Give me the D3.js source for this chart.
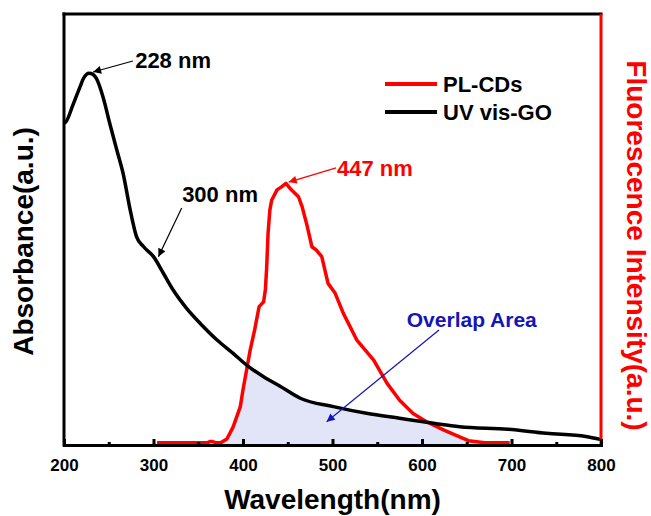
<!DOCTYPE html>
<html>
<head>
<meta charset="utf-8">
<script src="https://cdn.jsdelivr.net/npm/d3@7"></script>
<style>
  body { margin: 0; background: #fff; }
  svg text { font-family: "Liberation Sans", Arial, sans-serif; }
</style>
</head>
<body>
<div id="chart"></div>
<script>
// UV-vis absorbance of GO (left axis)
const uvWavelength = [200, 202, 210, 218, 222, 228, 232, 236, 244, 251, 259, 266, 274, 281, 289, 300, 311, 322, 337, 352, 371, 389, 404, 423, 441, 464, 501, 538, 575, 613, 642, 696, 739, 783, 800];
const uvAbsorbance = [1.494, 1.499, 1.578, 1.663, 1.703, 1.725, 1.721, 1.702, 1.609, 1.494, 1.369, 1.261, 1.090, 0.967, 0.920, 0.874, 0.797, 0.719, 0.634, 0.565, 0.487, 0.425, 0.371, 0.317, 0.274, 0.217, 0.178, 0.147, 0.124, 0.101, 0.085, 0.073, 0.054, 0.039, 0.025];

// PL emission of CDs (right axis)
const plWavelength = [304, 360, 363, 366, 370, 375, 382, 389, 397, 400, 404, 408, 413, 418, 423, 425, 426.5, 428, 430, 432, 438, 443, 448, 454, 462, 466, 471, 477, 482, 488, 495, 503, 512, 527, 546, 561, 575, 590, 605, 624, 642, 652, 670, 698];
const plIntensity = [0.005, 0.005, 0.008, 0.008, 0.005, 0.005, 0.014, 0.042, 0.089, 0.128, 0.174, 0.220, 0.267, 0.321, 0.332, 0.360, 0.414, 0.491, 0.545, 0.568, 0.592, 0.599, 0.607, 0.592, 0.576, 0.553, 0.514, 0.460, 0.452, 0.437, 0.375, 0.352, 0.306, 0.244, 0.197, 0.143, 0.104, 0.073, 0.054, 0.035, 0.019, 0.010, 0.005, 0.005];

const xTicks = [200, 300, 400, 500, 600, 700, 800];
const xMinorTicks = [250, 350, 450, 550, 650, 750];

const legendItems = [
  { label: "PL-CDs", color: "#ff0000" },
  { label: "UV vis-GO", color: "#000000" }
];

// annotations in data units: axis says which y scale they belong to
const notes = [
  { text: "228 nm", axis: "left", color: "#000", tx: 279.5, ty: 1.749, x1: 277, y1: 1.782, x2: 232.5, y2: 1.731 },
  { text: "300 nm", axis: "left", color: "#000", tx: 332, ty: 1.128, x1: 331.5, y1: 1.100, x2: 305.5, y2: 0.874 },
  { text: "447 nm", axis: "right", color: "#ff0000", tx: 505, ty: 0.624, x1: 504, y1: 0.643, x2: 451, y2: 0.610 },
  { text: "Overlap Area", axis: "left", color: "#1414b8", tx: 583, ty: 0.549, x1: 619, y1: 0.534, x2: 493.5, y2: 0.108 }
];

function interp(xs, ys, x) {
  if (x <= xs[0]) return ys[0];
  if (x >= xs[xs.length - 1]) return ys[ys.length - 1];
  const i = d3.bisectRight(xs, x);
  const t = (x - xs[i - 1]) / (xs[i] - xs[i - 1]);
  return ys[i - 1] + t * (ys[i] - ys[i - 1]);
}

function drawChart() {
  const width = 651;
  const height = 516;
  const margin = { top: 14, right: 50, bottom: 71, left: 64 };
  const innerW = width - margin.left - margin.right;
  const innerH = height - margin.top - margin.bottom;

  const svg = d3.select("#chart")
    .append("svg")
    .attr("width", width)
    .attr("height", height);

  const defs = svg.append("defs");
  ["#000", "#ff0000", "#1414b8"].forEach((c, i) => {
    defs.append("marker")
      .attr("id", "arrow" + i)
      .attr("viewBox", "0 0 10 10")
      .attr("refX", 10)
      .attr("refY", 5)
      .attr("markerUnits", "userSpaceOnUse")
      .attr("markerWidth", 10)
      .attr("markerHeight", 8)
      .attr("orient", "auto")
      .append("path")
      .attr("d", "M0,0 L10,5 L0,10 z")
      .attr("fill", c);
  });
  const markerFor = { "#000": "arrow0", "#ff0000": "arrow1", "#1414b8": "arrow2" };

  const g = svg.append("g")
    .attr("transform", `translate(${margin.left},${margin.top})`);

  const x = d3.scaleLinear().domain([200, 800]).range([0, innerW]);
  const yAbs = d3.scaleLinear().domain([0, 2]).range([innerH, 0]);
  const yPl = d3.scaleLinear().domain([0, 1]).range([innerH, 0]);

  // overlap area = under the lower of the two curves
  const grid = Array.from(new Set(uvWavelength.concat(plWavelength)))
    .filter(w => w >= 370 && w <= 698)
    .sort((a, b) => a - b);
  const overlap = grid.map(w => ({
    w,
    y: Math.max(yAbs(interp(uvWavelength, uvAbsorbance, w)), yPl(interp(plWavelength, plIntensity, w)))
  }));
  g.append("path")
    .datum(overlap)
    .attr("fill", "#e2e5f8")
    .attr("d", d3.area()
      .x(d => x(d.w))
      .y0(innerH)
      .y1(d => d.y));

  const uvData = uvWavelength.map((w, i) => ({ w, v: uvAbsorbance[i] }));
  const plData = plWavelength.map((w, i) => ({ w, v: plIntensity[i] }));

  g.append("path")
    .datum(plData)
    .attr("fill", "none")
    .attr("stroke", "#ff0000")
    .attr("stroke-width", 3.5)
    .attr("stroke-linejoin", "round")
    .attr("d", d3.line().x(d => x(d.w)).y(d => yPl(d.v)));

  g.append("path")
    .datum(uvData)
    .attr("fill", "none")
    .attr("stroke", "#000")
    .attr("stroke-width", 3.5)
    .attr("stroke-linejoin", "round")
    .attr("d", d3.line().curve(d3.curveMonotoneX).x(d => x(d.w)).y(d => yAbs(d.v)));

  // frame: top + left black, right red
  g.append("line")
    .attr("x1", 0).attr("x2", innerW).attr("y1", 0).attr("y2", 0)
    .attr("stroke", "#000").attr("stroke-width", 3).attr("stroke-linecap", "square");
  g.append("line")
    .attr("x1", 0).attr("x2", 0).attr("y1", 0).attr("y2", innerH)
    .attr("stroke", "#000").attr("stroke-width", 3).attr("stroke-linecap", "square");
  g.append("line")
    .attr("x1", innerW).attr("x2", innerW).attr("y1", 0).attr("y2", innerH)
    .attr("stroke", "#ff0000").attr("stroke-width", 3);

  // x axis, ticks pointing inward
  const xAxis = g.append("g")
    .attr("transform", `translate(0,${innerH})`)
    .call(d3.axisBottom(x).tickValues(xTicks).tickSizeInner(-6).tickSizeOuter(0).tickPadding(14));
  xAxis.select(".domain").attr("stroke-width", 3).attr("stroke-linecap", "square");
  xAxis.selectAll(".tick line").attr("stroke-width", 3);
  xAxis.selectAll("text")
    .attr("fill", "#000")
    .style("font-size", "17px")
    .style("font-weight", "bold");

  const xMinor = g.append("g")
    .attr("transform", `translate(0,${innerH})`)
    .call(d3.axisBottom(x).tickValues(xMinorTicks).tickSizeInner(-3).tickSizeOuter(0).tickFormat(""));
  xMinor.select(".domain").remove();
  xMinor.selectAll(".tick line").attr("stroke-width", 3);

  // axis titles
  svg.append("text")
    .attr("x", margin.left + innerW / 2)
    .attr("y", 509)
    .attr("text-anchor", "middle")
    .style("font-size", "28px")
    .style("font-weight", "bold")
    .text("Wavelength(nm)");

  svg.append("text")
    .attr("transform", `translate(33,${margin.top + innerH / 2 + 12}) rotate(-90)`)
    .attr("text-anchor", "middle")
    .style("font-size", "28px")
    .style("font-weight", "bold")
    .text("Absorbance(a.u.)");

  svg.append("text")
    .attr("transform", `translate(627,${margin.top + innerH / 2 + 16}) rotate(90)`)
    .attr("text-anchor", "middle")
    .attr("fill", "#ff0000")
    .style("font-size", "28px")
    .style("font-weight", "bold")
    .text("Fluorescence Intensity(a.u.)");

  // legend
  const legend = svg.append("g").attr("transform", "translate(385,84)");
  legendItems.forEach((d, i) => {
    legend.append("line")
      .attr("x1", 0).attr("x2", 52)
      .attr("y1", i * 28).attr("y2", i * 28)
      .attr("stroke", d.color)
      .attr("stroke-width", 4);
    legend.append("text")
      .attr("x", 58)
      .attr("y", i * 28 + 8)
      .style("font-size", "22px")
      .style("font-weight", "bold")
      .text(d.label);
  });

  // annotations
  notes.forEach(n => {
    const y = n.axis === "left" ? yAbs : yPl;
    g.append("line")
      .attr("x1", x(n.x1)).attr("y1", y(n.y1))
      .attr("x2", x(n.x2)).attr("y2", y(n.y2))
      .attr("stroke", n.color)
      .attr("stroke-width", 1.2)
      .attr("marker-end", `url(#${markerFor[n.color]})`);
    g.append("text")
      .attr("x", x(n.tx))
      .attr("y", y(n.ty))
      .attr("fill", n.color)
      .style("font-size", n.text === "Overlap Area" ? "21px" : "22px")
      .style("font-weight", "bold")
      .text(n.text);
  });
}

drawChart();
</script>
</body>
</html>
